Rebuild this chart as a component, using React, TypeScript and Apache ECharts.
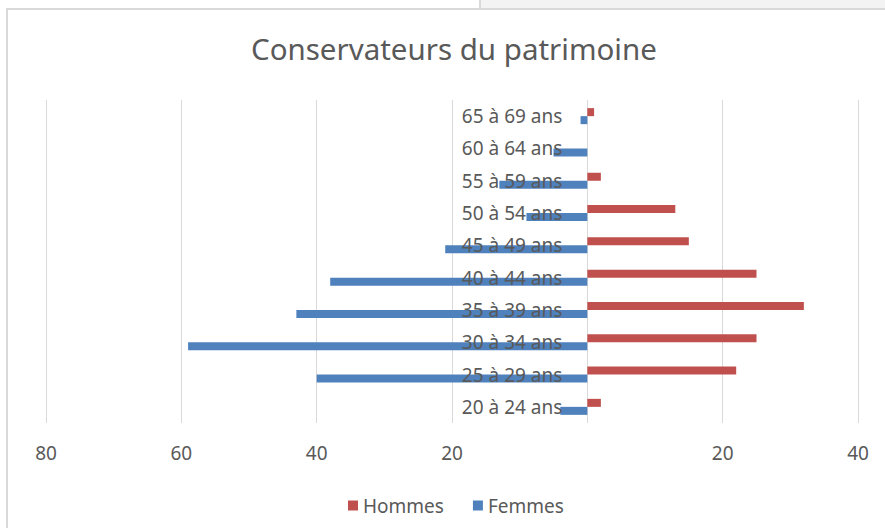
import React, { useEffect, useRef } from 'react';
import * as echarts from 'echarts';

const categories = [
  '20 à 24 ans',
  '25 à 29 ans',
  '30 à 34 ans',
  '35 à 39 ans',
  '40 à 44 ans',
  '45 à 49 ans',
  '50 à 54 ans',
  '55 à 59 ans',
  '60 à 64 ans',
  '65 à 69 ans',
];
const hommes = [2, 22, 25, 32, 25, 15, 13, 2, 0, 1];
const femmes = [4, 40, 59, 43, 38, 21, 9, 13, 5, 1];
const xMin = -80;
const xMax = 40;
const xStep = 20;

const TEXT = '#595959';
const GRID = '#d9d9d9';
const FONT = 'Noto Sans';
const GRID_LEFT = 46;
const GRID_RIGHT = 27;
const W = 885;

export default function App() {
  const ref = useRef<HTMLDivElement>(null);
  useEffect(() => {
    if (!ref.current) return;
    const chart = echarts.init(ref.current, null, { renderer: 'svg' });
    const plotW = W - GRID_LEFT - GRID_RIGHT;
    const zeroOffset = ((0 - xMin) / (xMax - xMin)) * plotW;
    chart.setOption({
      animation: false,
      backgroundColor: '#ffffff',
      textStyle: { fontFamily: FONT },
      title: {
        text: 'Conservateurs du patrimoine',
        left: 246,
        top: 28,
        textStyle: { fontFamily: FONT, fontSize: 29.5, fontWeight: 'normal', color: TEXT },
      },
      legend: {
        data: ['Hommes', 'Femmes'],
        left: 343,
        top: 491,
        icon: 'rect',
        itemWidth: 10,
        itemHeight: 10,
        itemGap: 29,
        textStyle: { fontFamily: FONT, fontSize: 19, color: TEXT },
      },
      grid: {
        left: GRID_LEFT,
        right: GRID_RIGHT,
        top: 100,
        bottom: 105,
        containLabel: false,
        outerBoundsMode: 'none',
      },
      xAxis: {
        type: 'value',
        min: xMin,
        max: xMax,
        interval: xStep,
        axisLine: { show: false },
        axisTick: { show: false },
        splitLine: { show: true, lineStyle: { color: GRID, width: 1 } },
        axisLabel: {
          margin: 20,
          fontFamily: FONT,
          fontSize: 19,
          color: TEXT,
          formatter: (v: number) => (v === 0 ? '' : String(Math.abs(v))),
        },
      },
      yAxis: {
        type: 'category',
        data: categories,
        z: 10,
        position: 'left',
        offset: -zeroOffset,
        axisLine: { show: false, onZero: false },
        axisTick: { show: false },
        splitLine: { show: false },
        axisLabel: { margin: 25, fontFamily: FONT, fontSize: 19, color: TEXT },
      },
      series: [
        {
          name: 'Hommes',
          type: 'bar',
          data: hommes,
          barWidth: 8,
          barGap: '0%',
          itemStyle: { color: '#C0504D' },
        },
        {
          name: 'Femmes',
          type: 'bar',
          data: femmes.map((v) => -v),
          barWidth: 8,
          barGap: '0%',
          itemStyle: { color: '#4F81BD' },
        },
      ],
      graphic: [
        { type: 'rect', shape: { x: 481, y: 0, width: 410, height: 8 }, style: { fill: '#f3f3f3' }, silent: true },
        { type: 'line', shape: { x1: 480, y1: 0, x2: 480, y2: 9 }, style: { stroke: GRID, lineWidth: 2 }, silent: true },
        { type: 'rect', shape: { x: 7, y: 9, width: 900, height: 600 }, style: { fill: 'none', stroke: GRID, lineWidth: 2 }, silent: true },
      ],
    });
    return () => chart.dispose();
  }, []);
  return <div ref={ref} style={{ position: 'fixed', left: 0, top: 0, width: W, height: 528 }} />;
}
